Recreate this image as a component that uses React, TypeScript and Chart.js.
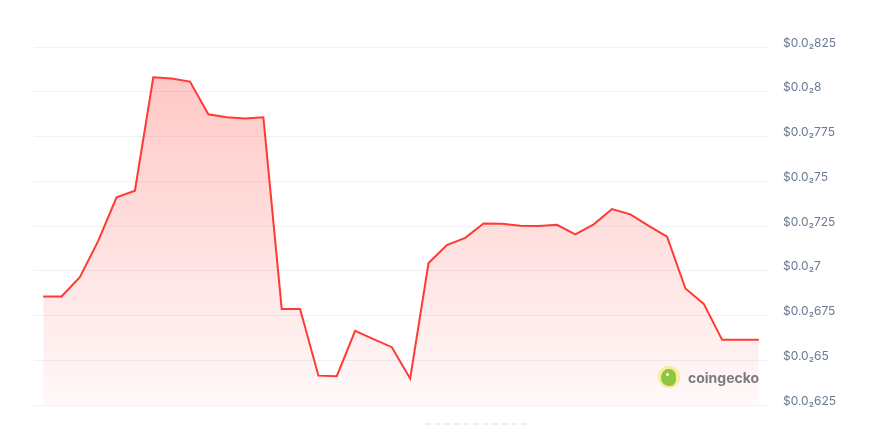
import React, { useEffect, useRef } from "react";
import { Chart, registerables } from "chart.js";

Chart.register(...registerables);

const labels: string[] = Array.from({ length: 40 }, (_, i) => `t${i + 1}`);

const prices: number[] = [
  0.006856, 0.006856, 0.006964, 0.007167, 0.00741, 0.007447, 0.008081, 0.008074,
  0.008057, 0.007874, 0.007857, 0.00785, 0.007857, 0.006787, 0.006787, 0.006414,
  0.006411, 0.006664, 0.006618, 0.006573, 0.006397, 0.007043, 0.007143, 0.007184,
  0.007264, 0.007263, 0.007251, 0.00725, 0.007257, 0.007203, 0.007259, 0.007345,
  0.007315, 0.007251, 0.007191, 0.006901, 0.006815, 0.006614, 0.006614, 0.006614,
];

const tickValues: number[] = [
  0.00625, 0.0065, 0.00675, 0.007, 0.00725, 0.0075, 0.00775, 0.008, 0.00825,
];
const tickLabels: string[] = [
  "$0.0₂625", "$0.0₂65", "$0.0₂675", "$0.0₂7", "$0.0₂725", "$0.0₂75", "$0.0₂775", "$0.0₂8", "$0.0₂825",
];

const LINE = "rgb(255, 58, 51)";

export default function App() {
  const ref = useRef<HTMLCanvasElement | null>(null);

  useEffect(() => {
    if (!ref.current) return;
    const chart = new Chart(ref.current, {
      type: "line",
      data: {
        labels,
        datasets: [
          {
            data: prices,
            borderColor: LINE,
            borderWidth: 2,
            pointRadius: 0,
            tension: 0,
            fill: "start",
            backgroundColor: (ctx: any) => {
              const { chart } = ctx;
              const area = chart.chartArea;
              if (!area) return "rgba(255,58,51,0.15)";
              const g = chart.ctx.createLinearGradient(0, area.top, 0, area.bottom);
              g.addColorStop(0, "rgba(255,58,51,0.30)");
              g.addColorStop(1, "rgba(255,58,51,0.03)");
              return g;
            },
          },
        ],
      },
      options: {
        animation: false,
        responsive: false,
        maintainAspectRatio: false,
        layout: { padding: { left: 34, top: 47, bottom: 20, right: 0 } },
        plugins: { legend: { display: false }, tooltip: { enabled: false } },
        scales: {
          x: {
            type: "category",
            offset: true,
            display: false,
          },
          y: {
            position: "right",
            min: 0.00625,
            max: 0.00825,
            border: { display: false },
            grid: {
              color: "#eff2f5",
              drawTicks: true,
              tickLength: 13,
              tickColor: "rgba(0,0,0,0)",
              lineWidth: 1,
            },
            afterBuildTicks: (scale: any) => {
              scale.ticks = tickValues.map((v) => ({ value: v }));
            },
            afterFit: (scale: any) => {
              scale.width = 104;
            },
            ticks: {
              padding: 2,
              labelOffset: -4,
              color: "#6b7a90",
              font: { family: "Inter", size: 12 },
              callback: (_v: any, i: number) => tickLabels[i],
            },
          },
        },
      },
    });
    return () => chart.destroy();
  }, []);

  return (
    <div style={{ position: "fixed", left: 0, top: 0, width: 872, height: 425, background: "#fff" }}>
      <canvas ref={ref} width={872} height={425} style={{ display: "block" }} />
      <div
        style={{
          position: "absolute",
          left: 658,
          top: 366,
          display: "flex",
          alignItems: "center",
          gap: 8,
        }}
      >
        <div
          style={{
            width: 22,
            height: 22,
            borderRadius: "50%",
            background: "#f6ec9a",
            position: "relative",
            overflow: "hidden",
          }}
        >
          <div
            style={{
              position: "absolute",
              left: 3,
              top: 3,
              width: 15,
              height: 17,
              borderRadius: "50% 45% 40% 50%",
              background: "#8dc63f",
            }}
          />
          <div
            style={{
              position: "absolute",
              left: 8,
              top: 7,
              width: 3,
              height: 3,
              borderRadius: "50%",
              background: "#fff",
            }}
          />
        </div>
        <span
          style={{
            fontFamily: "Inter, 'Noto Sans', sans-serif",
            fontWeight: 700,
            fontSize: 14,
            color: "#7b7b80",
            letterSpacing: 0,
          }}
        >
          coingecko
        </span>
      </div>
      <div
        style={{
          position: "absolute",
          left: 425,
          top: 423,
          width: 102,
          height: 0,
          borderTop: "2px dashed #eeeeee",
        }}
      />
    </div>
  );
}
